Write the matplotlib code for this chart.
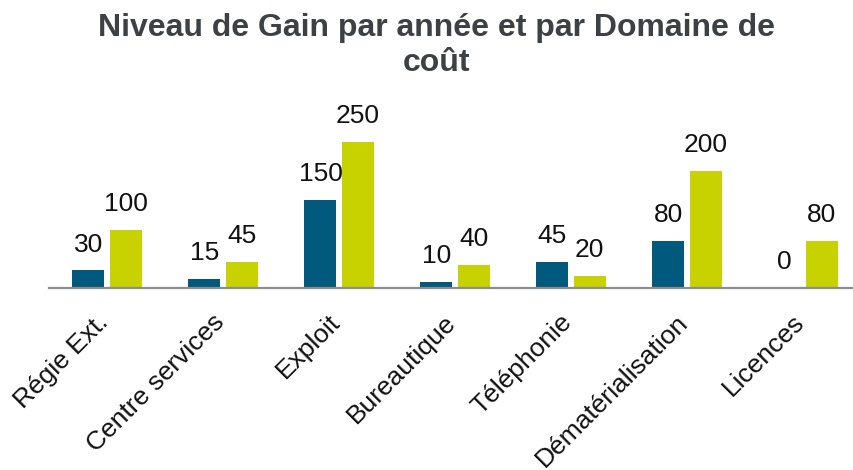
import matplotlib.pyplot as plt
import matplotlib.transforms as mtransforms
import numpy as np

plt.rcParams['font.family'] = ['Liberation Sans', 'DejaVu Sans']

# Catégories et valeurs
domaines = ['Régie Ext.', 'Centre services', 'Exploit', 'Bureautique',
            'Téléphonie', 'Dématérialisation', 'Licences']
serie_1 = [30, 15, 150, 10, 45, 80, 0]
serie_2 = [100, 45, 250, 40, 20, 200, 80]

bleu = '#015A7D'
vert = '#C8D200'

fig = plt.figure(figsize=(8.54, 4.70), dpi=100)
ax = fig.add_axes([49 / 854, 1 - 288 / 470, 812 / 854, 190 / 470])

x = np.arange(len(domaines))
w = 0.275
b1 = ax.bar(x - 0.16, serie_1, w, color=bleu)
b2 = ax.bar(x + 0.16, serie_2, w, color=vert)

for bars in (b1, b2):
    for rect in bars:
        h = rect.get_height()
        ax.annotate(f'{h:g}', (rect.get_x() + rect.get_width() / 2, h),
                    xytext=(0, 10), textcoords='offset points',
                    ha='center', va='bottom', fontsize=19, color='#111111')

ax.set_xlim(-0.5, len(domaines) - 0.5)
ax.set_ylim(0, 325)
ax.set_yticks([])
ax.set_xticks(x)
ax.set_xticklabels(domaines, rotation=45, ha='right', rotation_mode='anchor',
                   fontsize=19, color='#111111')
ax.tick_params(axis='x', length=0, pad=16)
decalage = mtransforms.ScaledTranslation(-0.11, 0, fig.dpi_scale_trans)
for lab in ax.get_xticklabels():
    lab.set_transform(lab.get_transform() + decalage)
for s in ('top', 'left', 'right'):
    ax.spines[s].set_visible(False)
ax.spines['bottom'].set_color('#8c8c8c')
ax.spines['bottom'].set_linewidth(1.6)

fig.text(0.511, 0.972, 'Niveau de Gain par année et par Domaine de\ncoût',
         ha='center', va='top', fontsize=23, fontweight='bold',
         color='#3d4146', linespacing=1.2)

fig.savefig('out.png', dpi=100)
